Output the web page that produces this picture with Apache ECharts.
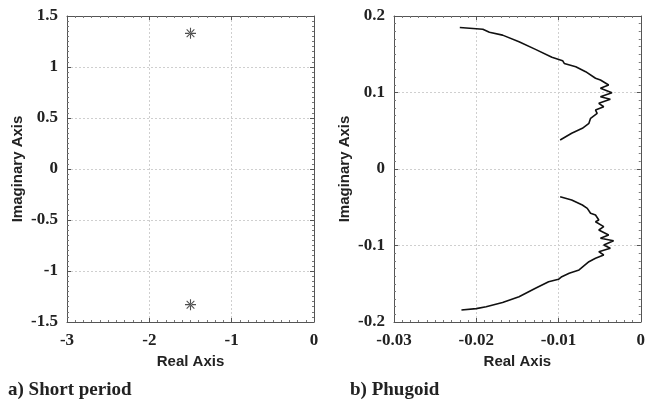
<!DOCTYPE html>
<html>
<head>
<meta charset="utf-8">
<script src="https://cdn.jsdelivr.net/npm/echarts@6/dist/echarts.min.js"></script>
<style>
  html, body { margin: 0; padding: 0; background: #fff; }
  #main { width: 648px; height: 404px; }
</style>
</head>
<body>
<div id="main"></div>
<script>
// a) short period poles
var shortReal = [-1.5, -1.5];
var shortImag = [1.33, -1.33];

// b) phugoid root locus, upper branch (left end -> near real axis)
var phugUpperReal = [-0.0220, -0.0192, -0.0184, -0.0168, -0.0148, -0.0128, -0.0108, -0.0095, -0.0093, -0.0079, -0.0067, -0.0055, -0.0049, -0.0051, -0.0039, -0.0049, -0.0035, -0.0049, -0.0037, -0.0051, -0.0045, -0.0055, -0.0053, -0.0061, -0.0063, -0.0071, -0.0084, -0.0098];
var phugUpperImag = [0.185, 0.1826, 0.1787, 0.175, 0.1664, 0.1564, 0.146, 0.1416, 0.138, 0.1337, 0.1272, 0.1186, 0.1163, 0.1141, 0.1098, 0.1055, 0.0997, 0.0945, 0.0911, 0.0859, 0.0814, 0.0771, 0.0728, 0.0663, 0.0597, 0.0532, 0.0467, 0.0379];
// lower branch (near real axis -> left end)
var phugLowerReal = [-0.0098, -0.0084, -0.0071, -0.0065, -0.0061, -0.0055, -0.0051, -0.0055, -0.0045, -0.0051, -0.0039, -0.0049, -0.0033, -0.0045, -0.0037, -0.0051, -0.0045, -0.0055, -0.0063, -0.0075, -0.0087, -0.0096, -0.0100, -0.0112, -0.0128, -0.0148, -0.0168, -0.0188, -0.0200, -0.0218];
var phugLowerImag = [-0.0362, -0.0405, -0.0471, -0.0514, -0.0579, -0.0601, -0.0667, -0.0689, -0.0754, -0.0797, -0.0863, -0.0906, -0.0937, -0.0993, -0.1037, -0.1081, -0.1124, -0.1167, -0.1212, -0.1320, -0.1363, -0.1408, -0.1442, -0.1473, -0.1559, -0.1669, -0.1745, -0.1800, -0.1825, -0.1843];

var captions = ['a) Short period', 'b) Phugoid'];

function zip(a, b) {
  return a.map(function (v, i) { return [v, b[i]]; });
}

var chart = echarts.init(document.getElementById('main'));

var labelFont = { fontFamily: 'Liberation Serif', fontWeight: 'bold', fontSize: 17, color: '#222' };
var nameFont = { fontFamily: 'Liberation Sans', fontWeight: 'bold', fontSize: 15, color: '#222' };
var frameLine = { show: true, onZero: false, lineStyle: { color: '#555', width: 1 } };
var gridLine = { show: true, lineStyle: { color: '#cfcfcf', type: [2, 2], width: 1 } };
var tick = { show: true, inside: true, length: 4, lineStyle: { color: '#555' } };
var minor = { show: true, splitNumber: 10, length: 2, lineStyle: { color: '#777' } };

function mainX(grid, min, max, interval, fmt) {
  return {
    type: 'value', gridIndex: grid, position: 'bottom', min: min, max: max, interval: interval,
    name: 'Real Axis', nameLocation: 'middle', nameGap: 32, nameTextStyle: nameFont,
    axisLine: frameLine, axisTick: tick, minorTick: minor, splitLine: gridLine,
    axisLabel: Object.assign({ margin: 10, formatter: fmt }, labelFont)
  };
}
function mainY(grid, min, max, interval, fmt) {
  return {
    type: 'value', gridIndex: grid, position: 'left', min: min, max: max, interval: interval,
    name: 'Imaginary Axis', nameLocation: 'middle', nameGap: 42, nameTextStyle: nameFont,
    axisLine: frameLine, axisTick: tick, minorTick: minor, splitLine: gridLine,
    axisLabel: Object.assign({ margin: 9, formatter: fmt }, labelFont)
  };
}
function sideAxis(grid, pos, min, max, interval) {
  return {
    type: 'value', gridIndex: grid, position: pos, min: min, max: max, interval: interval,
    axisLine: frameLine, axisTick: tick, minorTick: minor, splitLine: { show: false },
    axisLabel: { show: false }
  };
}
function fmtNum(v) { return String(Math.round(v * 1000) / 1000); }

// thin asterisk marker
var star = 'path://M-0.6,-6L0.6,-6L0.6,6L-0.6,6Z M-6,-0.6L6,-0.6L6,0.6L-6,0.6Z ' +
  'M-3.8,-4.6L4.6,3.8L3.8,4.6L-4.6,-3.8Z M-3.8,4.6L4.6,-3.8L3.8,-4.6L-4.6,3.8Z';

var option = {
  backgroundColor: '#fff',
  animation: false,
  title: [
    { text: captions[0], left: 3, top: 376, textStyle: { fontFamily: 'Liberation Serif', fontWeight: 'bold', fontSize: 19, color: '#222' } },
    { text: captions[1], left: 345, top: 376, textStyle: { fontFamily: 'Liberation Serif', fontWeight: 'bold', fontSize: 19, color: '#222' } }
  ],
  grid: [
    { left: 67, right: 334, top: 16, bottom: 82 },
    { left: 394, right: 5, top: 16, bottom: 82 }
  ],
  xAxis: [
    mainX(0, -3, 0, 1, fmtNum),
    sideAxis(0, 'top', -3, 0, 1),
    mainX(1, -0.03, 0, 0.01, fmtNum),
    sideAxis(1, 'top', -0.03, 0, 0.01)
  ],
  yAxis: [
    mainY(0, -1.5, 1.5, 0.5, fmtNum),
    sideAxis(0, 'right', -1.5, 1.5, 0.5),
    mainY(1, -0.2, 0.2, 0.1, fmtNum),
    sideAxis(1, 'right', -0.2, 0.2, 0.1)
  ],
  series: [
    {
      type: 'scatter', xAxisIndex: 0, yAxisIndex: 0,
      symbol: star, symbolSize: 11,
      itemStyle: { color: '#222' },
      data: zip(shortReal, shortImag)
    },
    {
      type: 'line', xAxisIndex: 2, yAxisIndex: 2, showSymbol: false,
      lineStyle: { color: '#111', width: 1.6 },
      data: zip(phugUpperReal, phugUpperImag)
    },
    {
      type: 'line', xAxisIndex: 2, yAxisIndex: 2, showSymbol: false,
      lineStyle: { color: '#111', width: 1.6 },
      data: zip(phugLowerReal, phugLowerImag)
    }
  ]
};

chart.setOption(option);
</script>
</body>
</html>
